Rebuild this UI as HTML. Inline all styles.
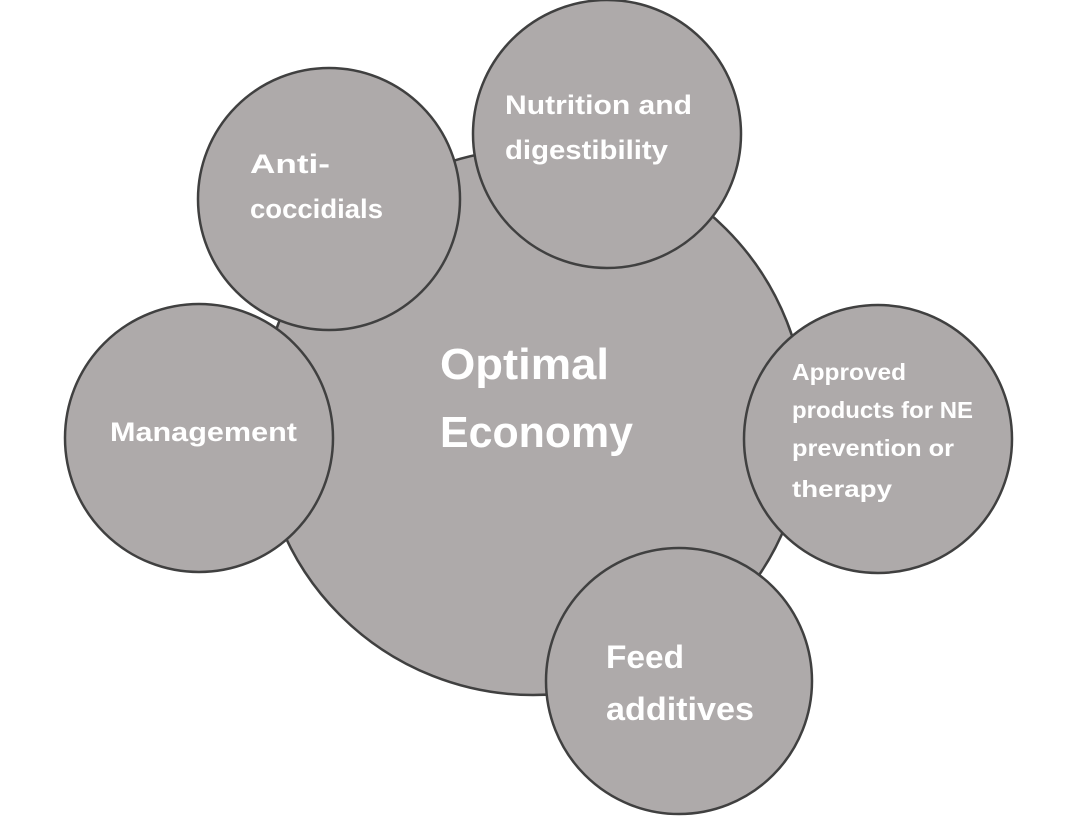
<!DOCTYPE html>
<html><head><meta charset="utf-8"><style>
html,body{margin:0;padding:0;background:#fff;}
svg{display:block;}
text{font-family:"Liberation Sans",sans-serif;font-weight:bold;fill:#fff;}
</style></head><body>
<svg width="1066" height="821" viewBox="0 0 1066 821">
<g fill="#aeaaaa" stroke="#404040" stroke-width="2.5">
<circle cx="533" cy="422" r="273"/>
<circle cx="329" cy="199" r="131"/>
<circle cx="607" cy="134" r="134"/>
<circle cx="199" cy="438" r="134"/>
<circle cx="878" cy="439" r="134"/>
<circle cx="679" cy="681" r="133"/>
</g>
<g lengthAdjust="spacingAndGlyphs">
<text x="440" y="379" font-size="44" textLength="169" lengthAdjust="spacingAndGlyphs">Optimal</text>
<text x="440" y="447" font-size="44" textLength="193" lengthAdjust="spacingAndGlyphs">Economy</text>
<text x="250" y="173" font-size="27" textLength="80" lengthAdjust="spacingAndGlyphs">Anti-</text>
<text x="250" y="218" font-size="27" textLength="133" lengthAdjust="spacingAndGlyphs">coccidials</text>
<text x="505" y="114" font-size="27" textLength="187" lengthAdjust="spacingAndGlyphs">Nutrition and</text>
<text x="505" y="159" font-size="27" textLength="163" lengthAdjust="spacingAndGlyphs">digestibility</text>
<text x="110" y="441" font-size="27" textLength="187" lengthAdjust="spacingAndGlyphs">Management</text>
<text x="792" y="380" font-size="23" textLength="114" lengthAdjust="spacingAndGlyphs">Approved</text>
<text x="792" y="418" font-size="23" textLength="181" lengthAdjust="spacingAndGlyphs">products for NE</text>
<text x="792" y="456" font-size="23" textLength="162" lengthAdjust="spacingAndGlyphs">prevention or</text>
<text x="792" y="497" font-size="23" textLength="100" lengthAdjust="spacingAndGlyphs">therapy</text>
<text x="606" y="668" font-size="32" textLength="78" lengthAdjust="spacingAndGlyphs">Feed</text>
<text x="606" y="720" font-size="32" textLength="148" lengthAdjust="spacingAndGlyphs">additives</text>
</g>
</svg>
</body></html>
